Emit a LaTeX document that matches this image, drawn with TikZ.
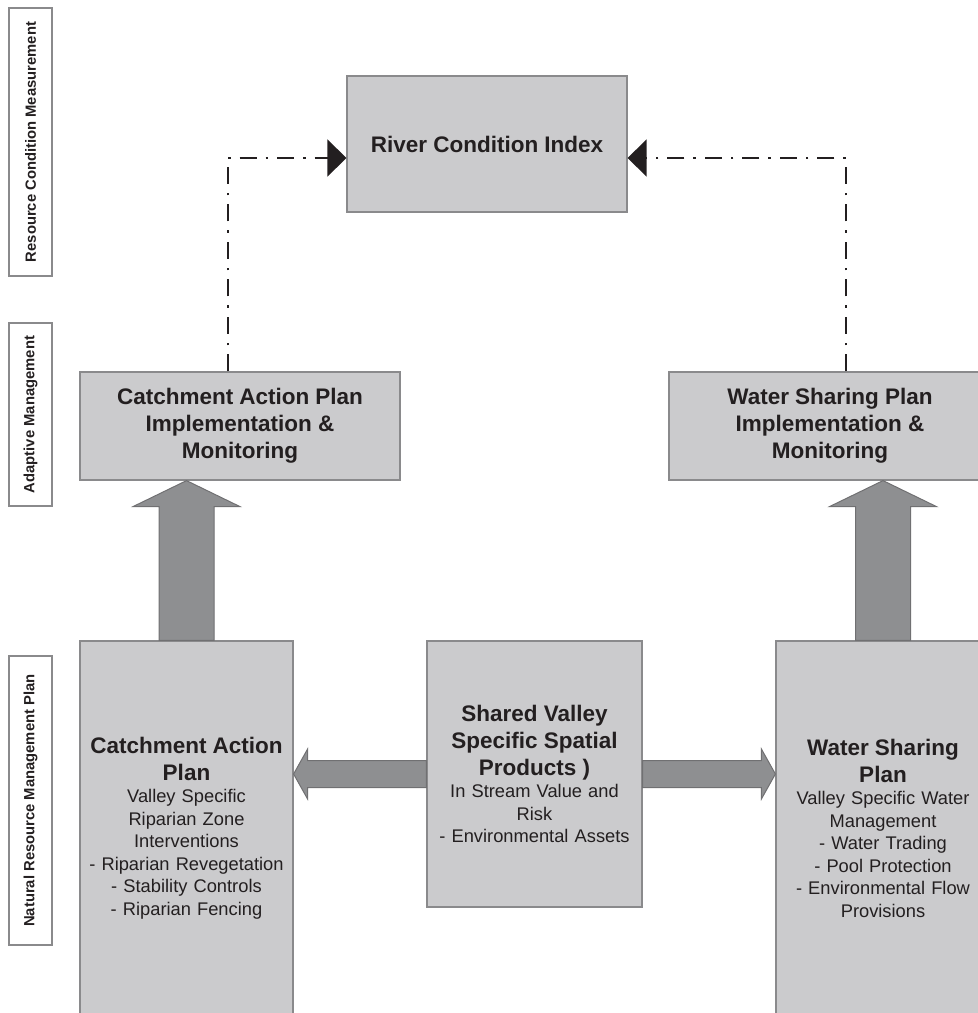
\documentclass[tikz,border=0pt]{standalone}
\usepackage{fontspec}
\setmainfont{Liberation Sans}
\usetikzlibrary{arrows.meta,calc}

\definecolor{boxgray}{HTML}{CBCBCD}
\definecolor{edgegray}{HTML}{8A8A8C}
\definecolor{arrowgray}{HTML}{8E8F91}
\definecolor{arrowedge}{HTML}{707072}
\definecolor{inkdark}{HTML}{231F20}

\newcommand{\hdfont}{\fontsize{22.5}{27}\selectfont\bfseries}
\newcommand{\txfont}{\fontsize{18.3}{22.5}\selectfont\mdseries}

\begin{document}
\begin{tikzpicture}[x=1pt, y=-1pt,
        tier/.style={rectangle, draw=edgegray, fill=white, line width=1.2pt, inner sep=0pt, rotate=90, minimum height=43pt, font=\fontsize{14.8}{17}\selectfont\bfseries, text=inkdark},
        plan/.style={rectangle, draw=edgegray, fill=boxgray, line width=1.2pt, inner sep=0pt, align=center, font=\txfont, text=inkdark},
        block/.style={fill=arrowgray, draw=arrowedge, line width=1pt, line join=miter},
        feedback/.style={draw=inkdark, line width=2pt, dash pattern=on 17pt off 9pt on 2.5pt off 9pt, -{Triangle[length=19pt, width=37pt]}}
    ]
        \useasboundingbox (0,0) rectangle (978,1013);
        \clip (0,0) rectangle (978,1013);

        % Levels
        \node[tier, minimum width=268pt] (lvl1) at (30.5,142) {Resource Condition Measurement};
        \node[tier, minimum width=183pt] (lvl2) at (30.5,414.5) {Adaptive Management};
        \node[tier, minimum width=289pt] (lvl3) at (30.5,800.5) {Natural Resource Management Plan};

        % Boxes
        \node[plan, text width=280pt, minimum height=136pt] (rci) at (487,144) {\hdfont River Condition Index\par};
        \node[plan, text width=320pt, minimum height=108pt] (capimpl) at (240,426) {\hdfont Catchment Action Plan\\Implementation \&\\Monitoring\par};
        \node[plan, text width=322pt, minimum height=108pt] (wspimpl) at (830,426) {\hdfont Water Sharing Plan\\Implementation \&\\Monitoring\par};

        \node[plan, text width=213pt, minimum height=374pt] (capbox) at (186.5,828) {\hdfont Catchment Action\\Plan\par
            \txfont Valley Specific\\Riparian Zone\\Interventions\\- Riparian Revegetation\\- Stability Controls\\- Riparian Fencing};
        \node[plan, text width=215pt, minimum height=266pt] (shared) at (534.5,774) {\hdfont Shared Valley\\Specific Spatial\\Products )\par
            \txfont In Stream Value and\\Risk\\- Environmental Assets};
        \node[plan, text width=214pt, minimum height=374pt] (wspbox) at (883,828) {\hdfont Water Sharing\\Plan\par
            \txfont Valley Specific Water\\Management\\- Water Trading\\- Pool Protection\\- Environmental Flow\\Provisions};

        % Block arrows
        \coordinate (captip) at (capbox.north |- capimpl.south);
        \coordinate (wsptip) at (wspbox.north |- wspimpl.south);
        \coordinate (lefttip) at (capbox.east |- shared.west);
        \coordinate (righttip) at (wspbox.west |- shared.east);

        \draw[block] ($(capbox.north)+(-27.5,0)$) -- ($(captip)+(-27.5,26)$) -- ($(captip)+(-53.5,26)$) -- (captip)
            -- ($(captip)+(53.5,26)$) -- ($(captip)+(27.5,26)$) -- ($(capbox.north)+(27.5,0)$) -- cycle;
        \draw[block] ($(wspbox.north)+(-27.5,0)$) -- ($(wsptip)+(-27.5,26)$) -- ($(wsptip)+(-53.5,26)$) -- (wsptip)
            -- ($(wsptip)+(53.5,26)$) -- ($(wsptip)+(27.5,26)$) -- ($(wspbox.north)+(27.5,0)$) -- cycle;
        \draw[block] ($(shared.west)+(0,-13.5)$) -- ($(lefttip)+(14,-13.5)$) -- ($(lefttip)+(14,-25)$) -- (lefttip)
            -- ($(lefttip)+(14,25)$) -- ($(lefttip)+(14,13.5)$) -- ($(shared.west)+(0,13.5)$) -- cycle;
        \draw[block] ($(shared.east)+(0,-13.5)$) -- ($(righttip)+(-14,-13.5)$) -- ($(righttip)+(-14,-25)$) -- (righttip)
            -- ($(righttip)+(-14,25)$) -- ($(righttip)+(-14,13.5)$) -- ($(shared.east)+(0,13.5)$) -- cycle;

        % Feedback to index
        \coordinate (lbend) at (228,158);
        \coordinate (rbend) at (846,158);
        \draw[feedback] (capimpl.north -| lbend) -- (lbend) -- (lbend -| rci.west);
        \draw[feedback] (wspimpl.north -| rbend) -- (rbend) -- (rbend -| rci.east);
    \end{tikzpicture}
\end{document}
